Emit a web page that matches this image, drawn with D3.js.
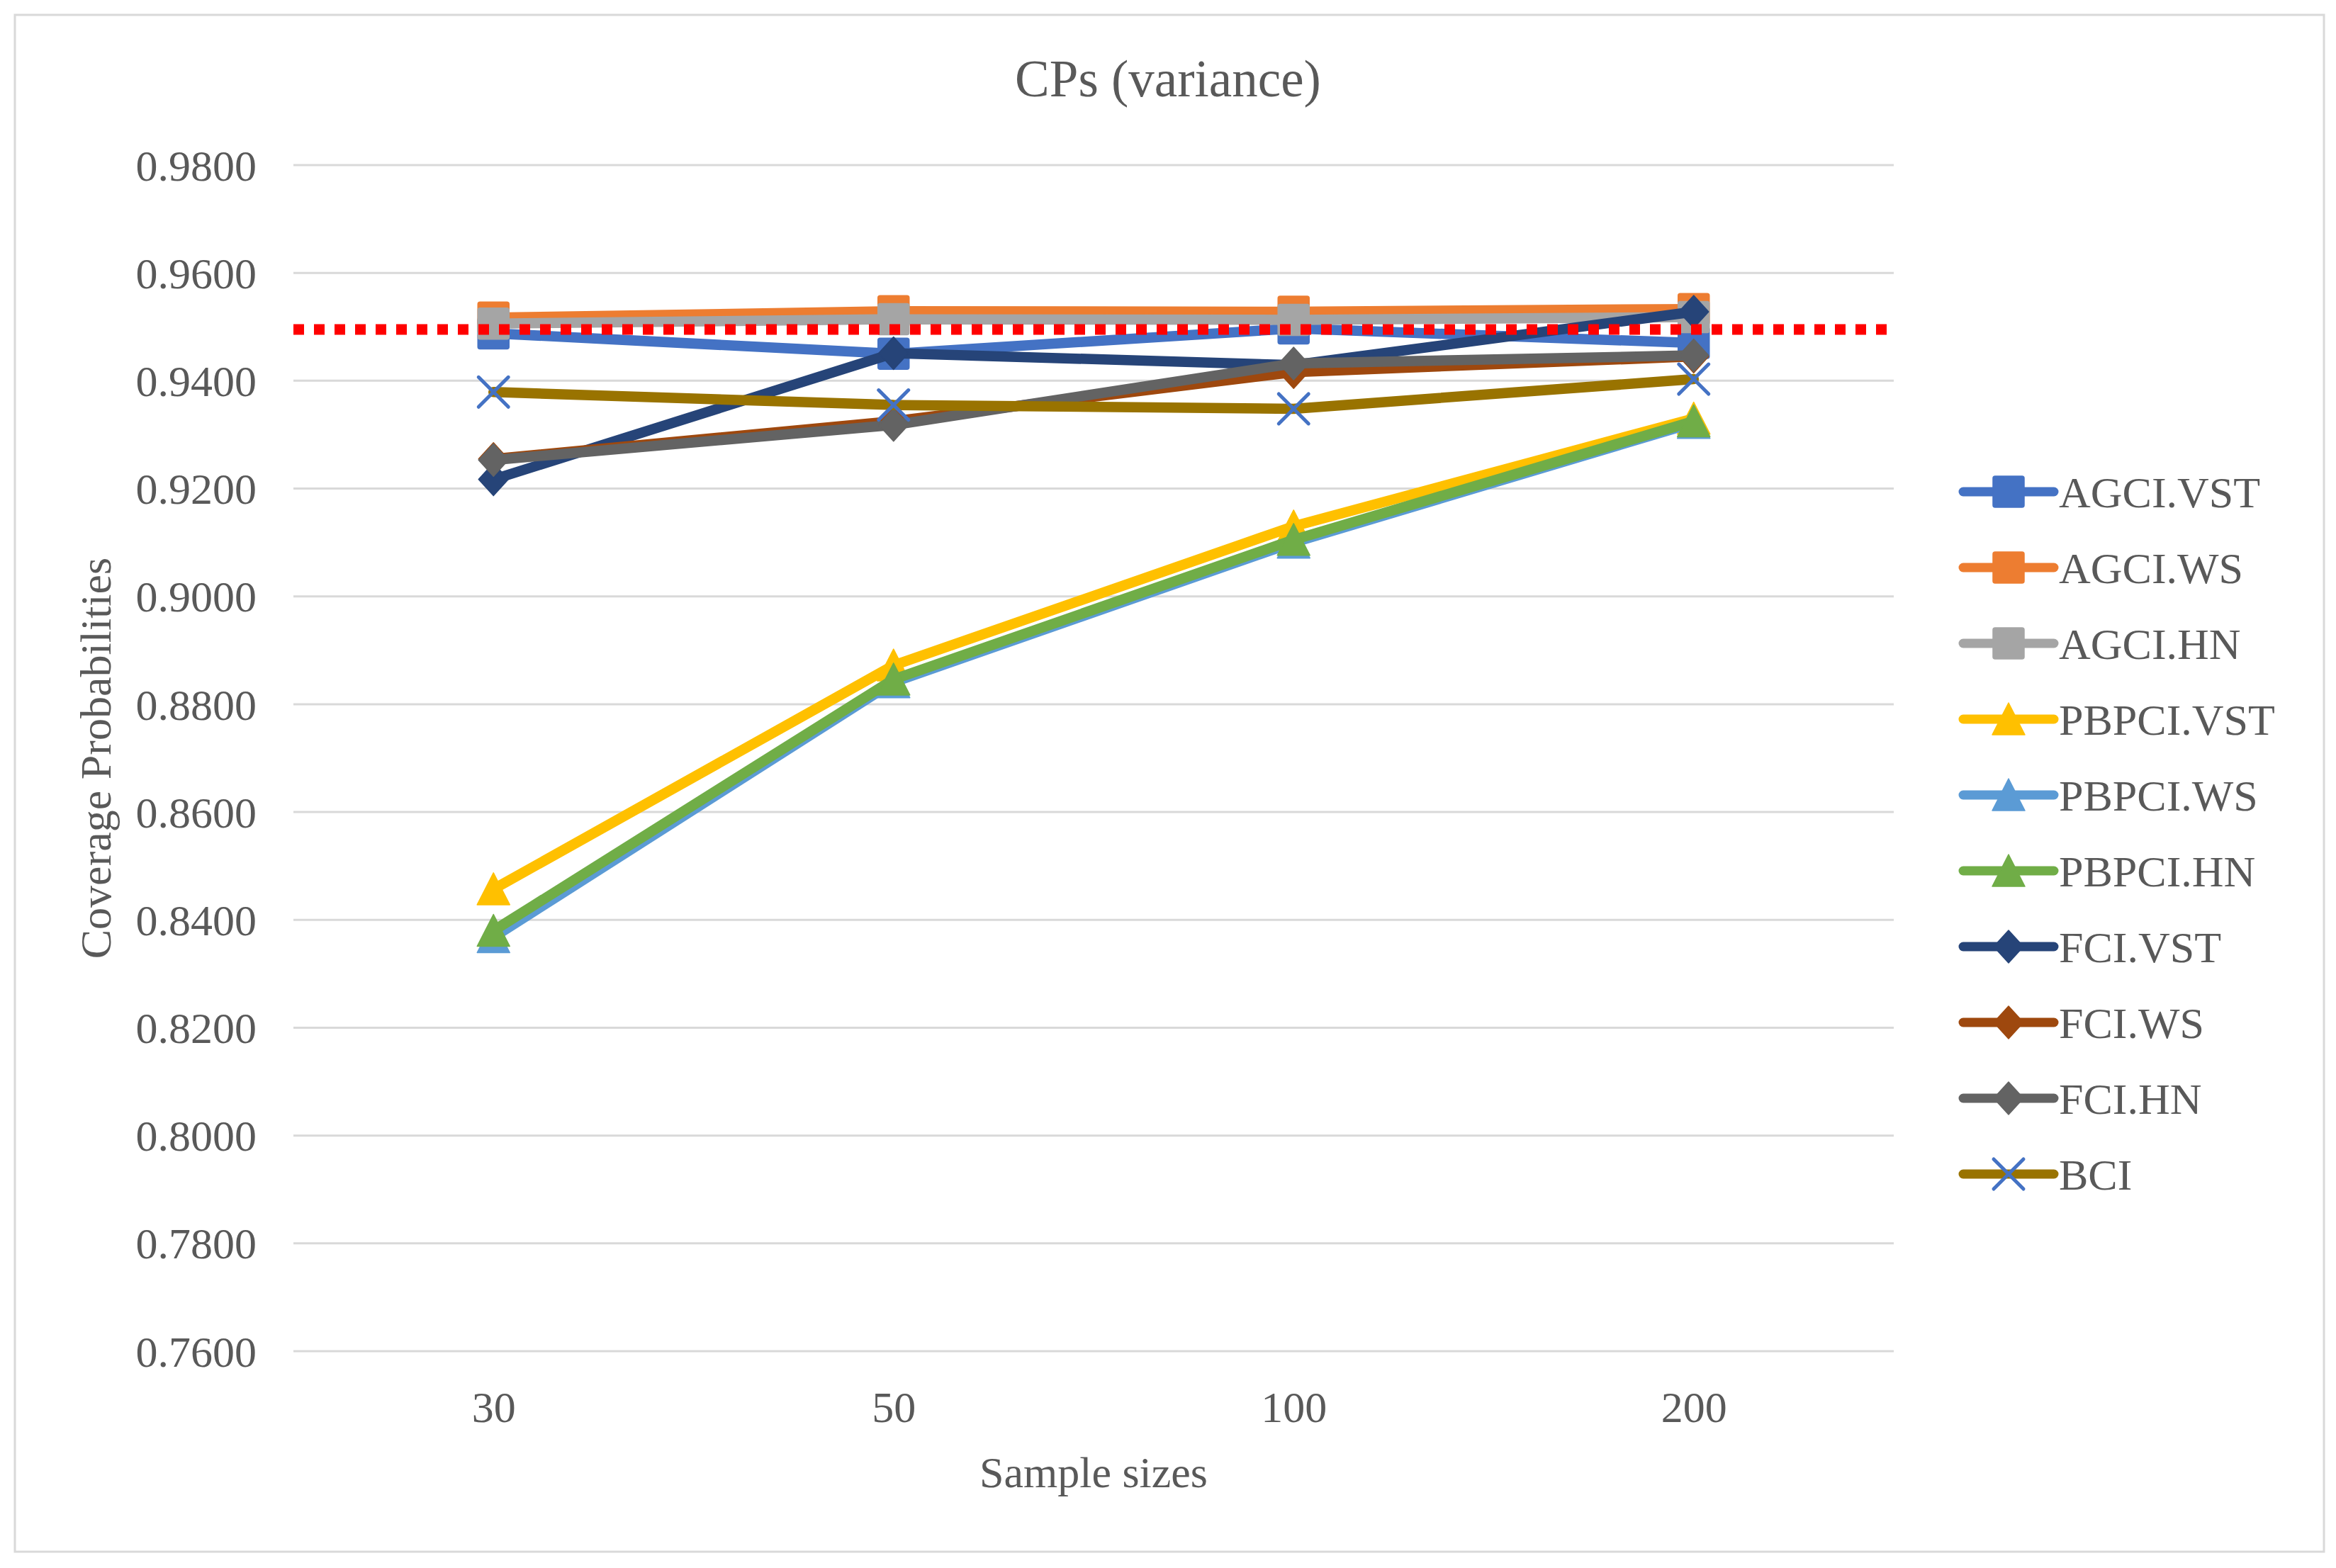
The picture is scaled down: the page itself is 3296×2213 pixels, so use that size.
<!DOCTYPE html>
<html>
<head>
<meta charset="utf-8">
<script src="https://cdn.jsdelivr.net/npm/d3@7"></script>
<style>
  html, body { margin: 0; padding: 0; background: #ffffff; }
  svg { display: block; }
  text { font-family: "Liberation Serif", "Times New Roman", serif; fill: #595959; }
</style>
</head>
<body>
<svg id="chart" width="3296" height="2213"></svg>
<script>
// ---- data ----
const categories = ["30", "50", "100", "200"];
const seriesNames = ["AGCI.VST", "AGCI.WS", "AGCI.HN", "PBPCI.VST", "PBPCI.WS", "PBPCI.HN", "FCI.VST", "FCI.WS", "FCI.HN", "BCI"];
const agciVST  = [0.9488, 0.9450, 0.9497, 0.9470];
const agciWS   = [0.9517, 0.9529, 0.9528, 0.9533];
const agciHN   = [0.9506, 0.9514, 0.9513, 0.9518];
const pbpciVST = [0.8457, 0.8872, 0.9130, 0.9330];
const pbpciWS  = [0.8368, 0.8841, 0.9100, 0.9322];
const pbpciHN  = [0.8380, 0.8846, 0.9105, 0.9325];
const fciVST   = [0.9217, 0.9451, 0.9429, 0.9528];
const fciWS    = [0.9255, 0.9325, 0.9416, 0.9445];
const fciHN    = [0.9253, 0.9318, 0.9432, 0.9447];
const bci      = [0.9379, 0.9355, 0.9348, 0.9403];
const yTicks   = [0.76, 0.78, 0.80, 0.82, 0.84, 0.86, 0.88, 0.90, 0.92, 0.94, 0.96, 0.98];
const refLevel = 0.9495;
const titleText = "CPs (variance)";
const xTitle = "Sample sizes";
const yTitle = "Coverage Probabilities";

const seriesValues = [agciVST, agciWS, agciHN, pbpciVST, pbpciWS, pbpciHN, fciVST, fciWS, fciHN, bci];
const lineColors   = ["#4472C4", "#ED7D31", "#A5A5A5", "#FFC000", "#5B9BD5", "#70AD47", "#264478", "#9E480E", "#636363", "#997300"];
const markerColors = ["#4472C4", "#ED7D31", "#A5A5A5", "#FFC000", "#5B9BD5", "#70AD47", "#264478", "#9E480E", "#636363", "#4472C4"];
const markerTypes  = ["square", "square", "square", "triangle", "triangle", "triangle", "diamond", "diamond", "diamond", "x"];

// ---- layout ----
const svg = d3.select("#chart");
const plot = { left: 414, right: 2672, top: 233, bottom: 1907 };

const x = d3.scalePoint().domain(categories).range([plot.left, plot.right]).padding(0.5);
const y = d3.scaleLinear().domain([0.76, 0.98]).range([plot.bottom, plot.top]);

// outer border
svg.append("rect")
  .attr("x", 21).attr("y", 21).attr("width", 3258).attr("height", 2169)
  .attr("fill", "#ffffff").attr("stroke", "#D9D9D9").attr("stroke-width", 3);

// title
svg.append("text").attr("x", 1648).attr("y", 136)
  .attr("text-anchor", "middle").style("font-size", "73px").text(titleText);

// gridlines
svg.append("g").selectAll("line").data(yTicks).join("line")
  .attr("x1", plot.left).attr("x2", plot.right)
  .attr("y1", d => y(d)).attr("y2", d => y(d))
  .attr("stroke", "#D9D9D9").attr("stroke-width", 3);

// y axis
const yAxis = d3.axisLeft(y).tickValues(yTicks).tickFormat(d3.format(".4f")).tickSize(0).tickPadding(0);
const gy = svg.append("g").attr("transform", `translate(362,0)`).call(yAxis);
gy.select(".domain").remove();
gy.selectAll("text").style("font-size", "62px").attr("fill", "#595959")
  .style("font-family", '"Liberation Serif", serif').attr("dy", "0.34em");

// x axis
const xAxis = d3.axisBottom(x).tickSize(0).tickPadding(0);
const gx = svg.append("g").attr("transform", `translate(0,1963)`).call(xAxis);
gx.select(".domain").remove();
gx.selectAll("text").style("font-size", "62px").attr("fill", "#595959")
  .style("font-family", '"Liberation Serif", serif').attr("dy", "0.71em");

// axis titles
svg.append("text").attr("x", 1543).attr("y", 2099)
  .attr("text-anchor", "middle").style("font-size", "62px").text(xTitle);
svg.append("text").attr("transform", "translate(156,1070) rotate(-90)")
  .attr("text-anchor", "middle").style("font-size", "62px").text(yTitle);

// marker drawing
function drawMarker(g, type, cx, cy, color) {
  if (type === "square") {
    g.append("rect").attr("x", cx - 22).attr("y", cy - 22).attr("width", 44).attr("height", 44)
      .attr("rx", 3).attr("fill", color).attr("stroke", color).attr("stroke-width", 1.5);
  } else if (type === "triangle") {
    g.append("path")
      .attr("d", `M${cx},${cy - 23} L${cx + 23},${cy + 22} L${cx - 23},${cy + 22} Z`)
      .attr("fill", color).attr("stroke", color).attr("stroke-width", 1.5).attr("stroke-linejoin", "round");
  } else if (type === "diamond") {
    g.append("path")
      .attr("d", `M${cx},${cy - 23} L${cx + 21},${cy} L${cx},${cy + 23} L${cx - 21},${cy} Z`)
      .attr("fill", color).attr("stroke", color).attr("stroke-width", 1.5).attr("stroke-linejoin", "round");
  } else if (type === "x") {
    g.append("path")
      .attr("d", `M${cx - 21},${cy - 21} L${cx + 21},${cy + 21} M${cx - 21},${cy + 21} L${cx + 21},${cy - 21}`)
      .attr("fill", "none").attr("stroke", color).attr("stroke-width", 5).attr("stroke-linecap", "round");
  }
}

const line = d3.line().x((d, i) => x(categories[i])).y(d => y(d));

const seriesG = svg.append("g");
seriesValues.forEach((vals, si) => {
  const g = seriesG.append("g");
  g.append("path").datum(vals).attr("d", line)
    .attr("fill", "none").attr("stroke", lineColors[si]).attr("stroke-width", 14.5)
    .attr("stroke-linejoin", "round").attr("stroke-linecap", "round");
  vals.forEach((v, i) => drawMarker(g, markerTypes[si], x(categories[i]), y(v), markerColors[si]));
});

// reference dotted line
svg.append("line")
  .attr("x1", plot.left).attr("x2", plot.right)
  .attr("y1", y(refLevel)).attr("y2", y(refLevel))
  .attr("stroke", "#FF0000").attr("stroke-width", 15).attr("stroke-dasharray", "15,14");

// legend
const legend = svg.append("g");
seriesNames.forEach((name, si) => {
  const cy = 694 + si * 107;
  const g = legend.append("g");
  g.append("line").attr("x1", 2770).attr("x2", 2898).attr("y1", cy).attr("y2", cy)
    .attr("stroke", lineColors[si]).attr("stroke-width", 13).attr("stroke-linecap", "round");
  drawMarker(g, markerTypes[si], 2834, cy, markerColors[si]);
  g.append("text").attr("x", 2905).attr("y", cy).attr("dy", "0.36em")
    .style("font-size", "62px").text(name);
});
</script>
</body>
</html>
